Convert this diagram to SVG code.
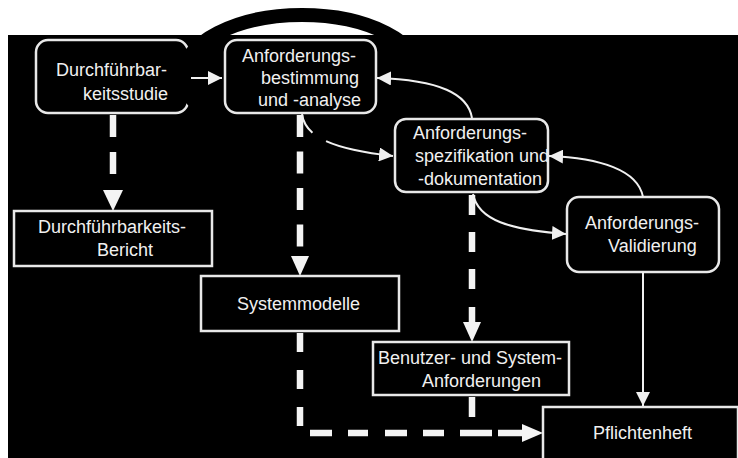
<svg xmlns="http://www.w3.org/2000/svg" width="738" height="458" viewBox="0 0 738 458">
<defs>
<style>
.box{fill:#000;stroke:#e8e8e8;stroke-width:2.5}
.t{font-family:"Liberation Sans",Arial,sans-serif;font-size:18px;fill:#f0f0f0}
.solid{fill:none;stroke:#f0f0f0;stroke-width:2}
.dash{fill:none;stroke:#f4f4f4;stroke-width:6.5}
.head{fill:#f4f4f4}
</style>
<marker id="ah" markerUnits="userSpaceOnUse" markerWidth="15" markerHeight="14" refX="14" refY="7" orient="auto">
<path d="M0,0 L14,7 L0,14 z" fill="#f0f0f0"/>
</marker>
</defs>
<rect x="0" y="0" width="738" height="458" fill="#fff"/>
<rect x="8" y="35" width="730" height="423" fill="#000"/>

<g id="n1"><rect class="box" x="36" y="40" width="152" height="73" rx="12"/>
<text class="t" x="56" y="76">Durchführbar-</text><text class="t" x="83" y="100">keitsstudie</text></g>

<ellipse id="ring" cx="302" cy="76" rx="119" ry="61" fill="none" stroke="#000" stroke-width="14"/>

<g id="n2"><rect class="box" x="225" y="40" width="151" height="73" rx="12"/>
<text class="t" x="242" y="62">Anforderungs-</text><text class="t" x="261" y="84">bestimmung</text><text class="t" x="258" y="106">und -analyse</text></g>
<g id="n3"><rect class="box" x="14" y="211" width="198" height="55"/>
<text class="t" x="38" y="233">Durchführbarkeits-</text><text class="t" x="97" y="256">Bericht</text></g>
<g id="n4"><rect class="box" x="201" y="276" width="198" height="55"/>
<text class="t" x="237" y="310">Systemmodelle</text></g>
<g id="n5"><rect class="box" x="395" y="119" width="153" height="73" rx="11"/>
<text class="t" x="413" y="139">Anforderungs-</text><text class="t" x="415" y="162">spezifikation und</text><text class="t" x="418" y="185">-dokumentation</text></g>
<g id="n6"><rect class="box" x="567" y="197" width="152" height="75" rx="12"/>
<text class="t" x="585" y="229">Anforderungs-</text><text class="t" x="608" y="252">Validierung</text></g>
<g id="n7"><rect class="box" x="373" y="342" width="196" height="53"/>
<text class="t" x="378" y="364">Benutzer- und System-</text><text class="t" x="422" y="387">Anforderungen</text></g>
<g id="n8"><rect class="box" x="543" y="407" width="195" height="60"/>
<text class="t" x="593" y="439">Pflichtenheft</text></g>

<g id="connectors">
<path class="solid" d="M191,78 H222" marker-end="url(#ah)"/>
<path class="solid" d="M302,114 C305,136 330,149 393,156" stroke-dasharray="22 16 200" marker-end="url(#ah)"/>
<path class="solid" d="M472,118 C468,94 440,80 377,78" marker-end="url(#ah)"/>
<path class="solid" d="M643,197 C638,170 600,158 549,156" marker-end="url(#ah)"/>
<path class="solid" d="M473,194 C478,220 510,230 566,234" marker-end="url(#ah)"/>
<path class="solid" d="M643,272 V406" marker-end="url(#ah)"/>

<path class="dash" d="M113,115 V175" stroke-dasharray="22 15"/>
<polygon class="head" points="103,190 123,190 113,211"/>
<path class="dash" d="M300,115 V247" stroke-dasharray="22 14.5"/>
<polygon class="head" points="291,256 309,256 300,276"/>
<path class="dash" d="M472,195 V289" stroke-dasharray="20 17"/>
<path class="dash" d="M472,307 V324"/>
<polygon class="head" points="463,322 481,322 472,342"/>
<path class="dash" d="M472,397 V417"/>
<path class="dash" d="M300,333 V427" stroke-dasharray="19 18"/>
<path class="dash" d="M310,433H332 M348,433H368 M385,433H407 M423,433H444 M460,433H492 M498,433H524"/>
<polygon class="head" points="522,424 522,442 543,433"/>
</g>
</svg>
